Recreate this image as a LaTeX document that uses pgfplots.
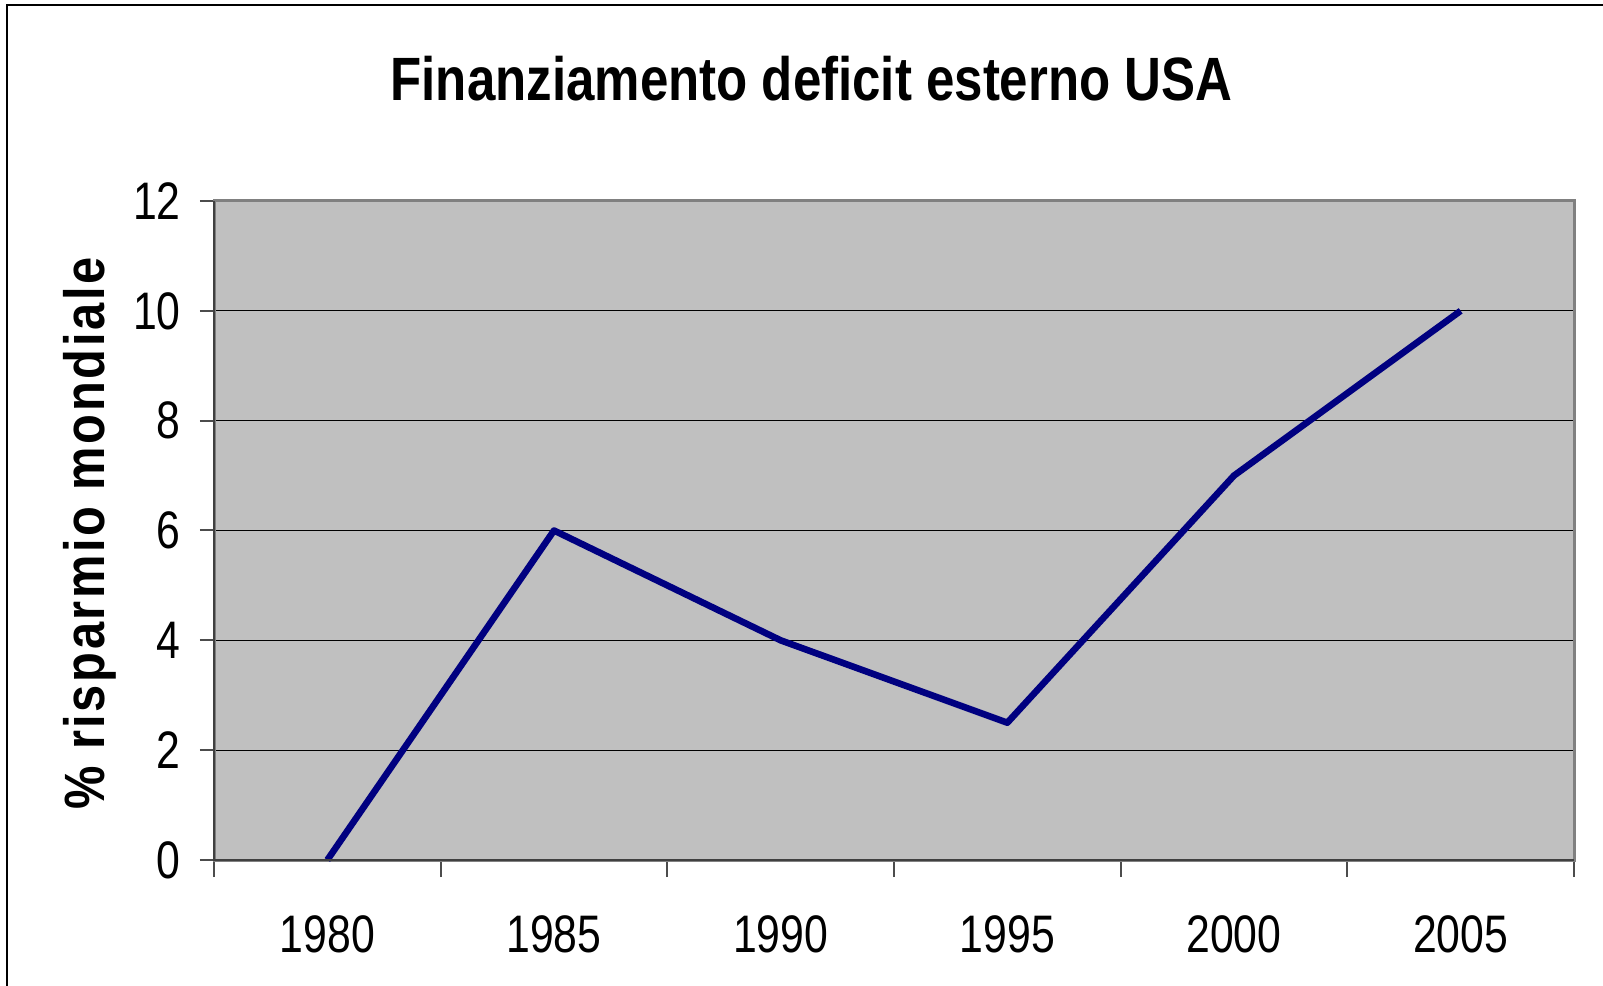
\documentclass[border=0pt]{standalone}
\usepackage{fontspec}
\setmainfont{Liberation Sans}
\newfontfamily\tickfont[FakeStretch=0.81]{Liberation Sans}
\newfontfamily\titlefont[FakeStretch=0.834]{Liberation Sans Bold}
\newfontfamily\labelfont[FakeStretch=0.86,LetterSpace=4.6]{Liberation Sans Bold}
\usepackage{pgfplots}
\pgfplotsset{compat=1.18}
\definecolor{navyline}{RGB}{0,0,128}
\definecolor{plotbg}{RGB}{192,192,192}
\definecolor{framegray}{RGB}{128,128,128}
\begin{document}
\begin{tikzpicture}
\begin{axis}[
  scale only axis, width=680bp, height=329.5bp,
  at={(0,0)}, anchor=south west,
  xmin=-0.5, xmax=5.5, ymin=0, ymax=12,
  axis background/.style={fill=plotbg},
  axis line style={draw=framegray, line width=1.5bp},
  ytick={0,2,...,12},
  ymajorgrids, grid style={black, line width=0.5bp},
  xtick={0,...,5},
  xticklabels={1980,1985,1990,1995,2000,2005},
  minor xtick={-0.5,0.5,...,5.5},
  tick align=outside, major tick length=7bp, minor tick length=8.5bp,
  xtick pos=left, ytick pos=left,
  major x tick style={draw=none},
  tick style={black!70, line width=1bp},
  /pgf/number format/assume math mode=true,
  ticklabel style={font=\tickfont\fontsize{26.5}{26.5}\selectfont, inner sep=0pt},
  xticklabel style={anchor=base, yshift=-39bp},
  yticklabel style={anchor=east, xshift=-9.5bp},
  clip=false,
]
\addplot[navyline, line width=3.3bp, line join=round] coordinates {(0,0) (1,6) (2,4) (3,2.5) (4,7) (5,10)};
\draw[black!75, line width=1.2bp] (rel axis cs:0,1) -- (rel axis cs:0,0) -- (rel axis cs:1,0);
\end{axis}
\node[anchor=base, inner sep=0pt, font=\titlefont\fontsize{30.7}{30.7}\selectfont] at (298.75bp,379.5bp) {Finanziamento deficit esterno USA};
\node[rotate=90, anchor=base, inner sep=0pt, font=\labelfont\fontsize{28.5}{28.5}\selectfont] at (-54.5bp,163.25bp) {\% risparmio mondiale};
\draw[black, line width=1bp] (-103.5bp,-63bp) -- (-103.5bp,427.5bp) -- (694.5bp,427.5bp);
\pgfresetboundingbox
\useasboundingbox (-107bp,-63bp) rectangle (694.5bp,430bp);
\end{tikzpicture}
\end{document}
